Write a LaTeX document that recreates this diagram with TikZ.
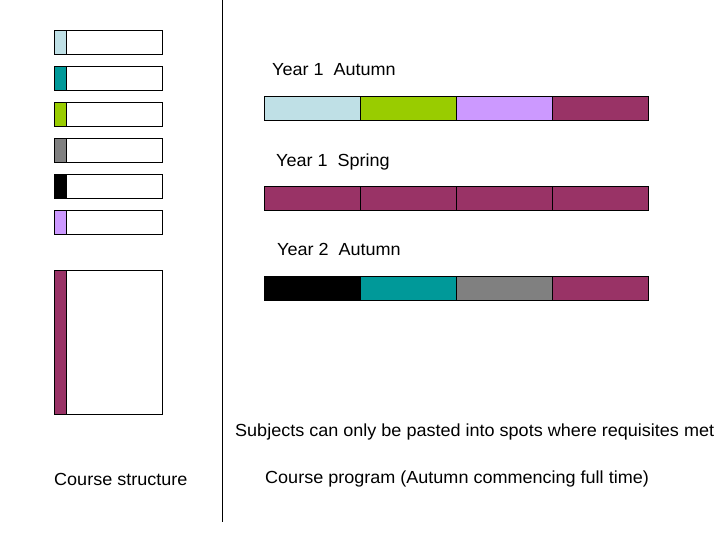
\documentclass[tikz,border=0pt]{standalone}
\usepackage{fontspec}
\setmainfont{Liberation Sans}[FakeStretch=1.03]
\definecolor{cLight}{RGB}{191,224,230}
\definecolor{cTeal}{RGB}{0,153,153}
\definecolor{cGreen}{RGB}{153,204,0}
\definecolor{cGrey}{RGB}{128,128,128}
\definecolor{cLav}{RGB}{204,153,255}
\definecolor{cMaroon}{RGB}{153,51,102}
\tikzset{
  box/.style={draw=black, line width=0.9pt},
  seg/.style={draw=black, line width=0.7pt},
  lbl/.style={anchor=base west, inner sep=0pt, font=\fontsize{17.5}{20}\selectfont}
}
\begin{document}
\begin{tikzpicture}[x=1pt,y=-1pt]
\useasboundingbox (0,0) rectangle (720,540);
\fill[white] (0,0) rectangle (720,540);
% legend boxes
\foreach \y/\c in {30.3/cLight,66.3/cTeal,102.3/cGreen,138.3/cGrey,174.3/black,210.3/cLav}{
  \fill[\c] (54.3,\y) rectangle (66.3,\y+24);
  \draw[box] (54.3,\y) rectangle (162.3,\y+24);
  \draw[box] (66.3,\y) -- (66.3,\y+24);
}
% big box
\fill[cMaroon] (54.3,270.3) rectangle (66.3,414.3);
\draw[box] (54.3,270.3) rectangle (162.3,414.3);
\draw[box] (66.3,270.3) -- (66.3,414.3);
% divider
\draw[line width=1.3pt] (222.5,0) -- (222.5,522);
% bars
\foreach \y/\a/\b/\c/\d in {96.3/cLight/cGreen/cLav/cMaroon,186.3/cMaroon/cMaroon/cMaroon/cMaroon,276.3/black/cTeal/cGrey/cMaroon}{
  \fill[\a] (264.3,\y) rectangle (360.3,\y+24);
  \fill[\b] (360.3,\y) rectangle (456.3,\y+24);
  \fill[\c] (456.3,\y) rectangle (552.5,\y+24);
  \fill[\d] (552.5,\y) rectangle (648.7,\y+24);
  \draw[seg] (264.3,\y) rectangle (648.7,\y+24);
  \draw[seg] (360.3,\y) -- (360.3,\y+24);
  \draw[seg] (456.3,\y) -- (456.3,\y+24);
  \draw[seg] (552.5,\y) -- (552.5,\y+24);
}
% labels
\node[lbl] (t1) at (272,76) {Year 1\ \ Autumn};
\node[lbl] (t2) at (276,167) {Year 1\ \ Spring};
\node[lbl] (t3) at (277,255.5) {Year 2\ \ Autumn};
\node[lbl] (t4) at (235,436) {Subjects can only be pasted into spots where requisites met};
\node[lbl] (t5) at (265,483.5) {Course program (Autumn commencing full time)};
\node[lbl] (t6) at (54,485.5) {Course structure};
\end{tikzpicture}
\end{document}
